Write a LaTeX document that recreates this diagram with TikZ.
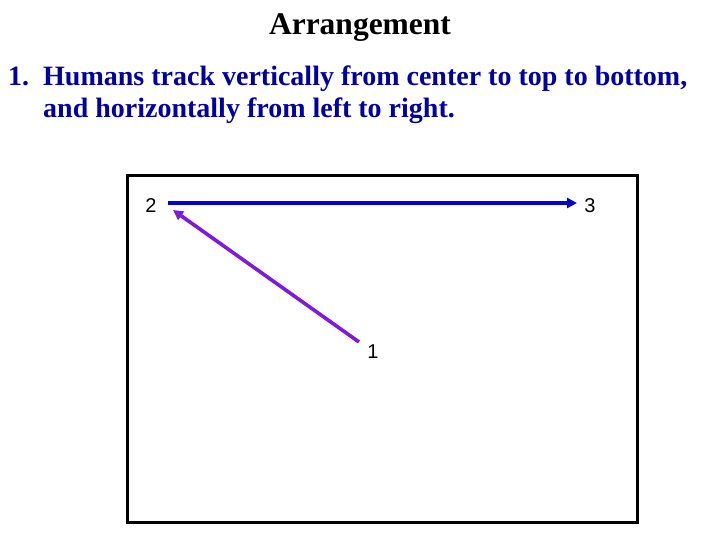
\documentclass[tikz,border=0pt]{standalone}
\usepackage{fontspec}
\setmainfont{Liberation Serif}
\newfontfamily\arialf{Liberation Sans}
\usetikzlibrary{arrows.meta}
\definecolor{textblue}{RGB}{0,0,160}
\definecolor{lineblue}{RGB}{0,0,210}
\definecolor{violetline}{RGB}{125,25,225}
\tikzset{
  ptlabel/.style={font=\arialf\fontsize{20}{24}\selectfont, inner sep=0pt, anchor=base},
  bodytext/.style={font=\bfseries\fontsize{28}{33}\selectfont, text=textblue, inner sep=0pt, anchor=base west},
  arr/.style={line width=3.6pt, -{Triangle[length=10pt,width=10pt]}}
}
\begin{document}
\begin{tikzpicture}[x=1pt,y=-1pt]
\useasboundingbox (0,0) rectangle (720,540);
\node[font=\bfseries\fontsize{31.5}{36}\selectfont, inner sep=0pt, anchor=base] (title) at (360,35) {Arrangement};
\node[bodytext] (num) at (8,86) {1.};
\node[bodytext] (l1) at (43,86) {Humans track vertically from center to top to bottom,};
\node[bodytext] (l2) at (43,118) {and horizontally from left to right.};
\node[draw=black, line width=3.3pt, minimum width=510pt, minimum height=347pt, inner sep=0pt, anchor=north west] (box) at (126,174) {};
\node[ptlabel] (n2) at (151,213) {2};
\node[ptlabel] (n3) at (590,213) {3};
\node[ptlabel] (n1) at (373,358) {1};
\coordinate (a2) at (168,203);
\coordinate (a3) at (577,203);
\coordinate (b1) at (359,342);
\coordinate (b2) at (173,210);
\draw[arr, lineblue] (a2) -- (a3);
\draw[arr, violetline] (b1) -- (b2);
\end{tikzpicture}
\end{document}
